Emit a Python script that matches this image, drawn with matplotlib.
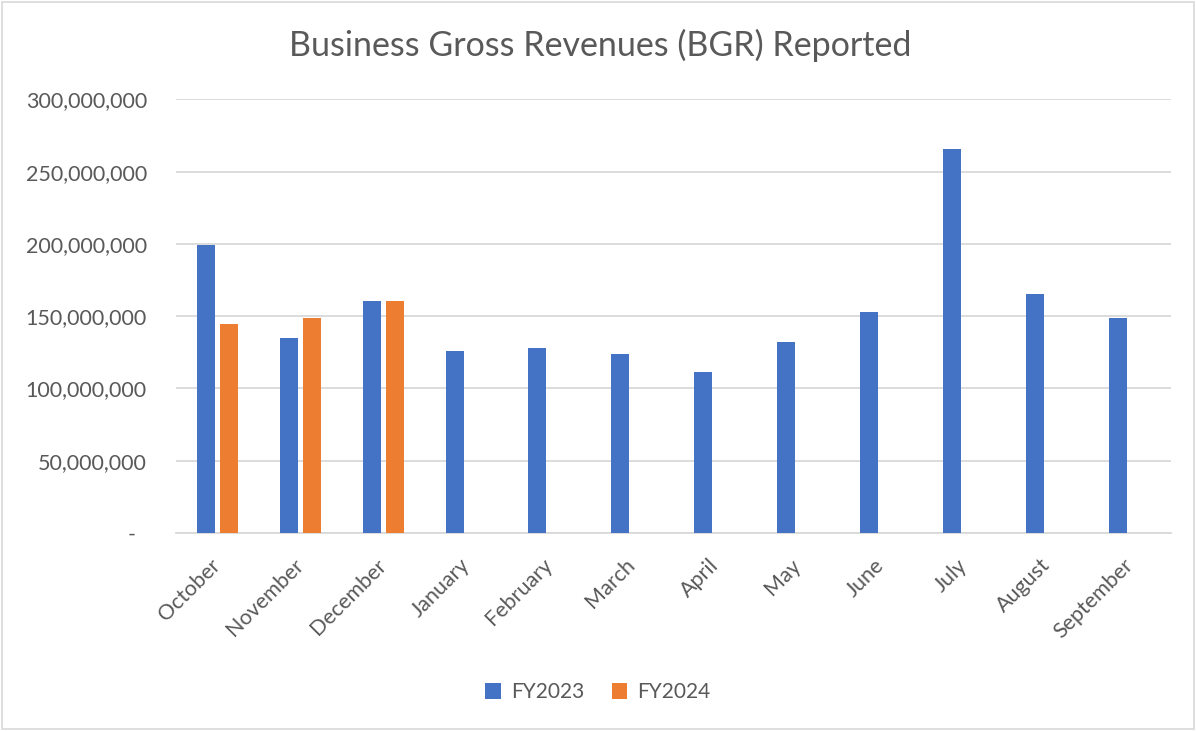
import numpy as np
import matplotlib.pyplot as plt
from matplotlib.ticker import FuncFormatter
from matplotlib.patches import Rectangle

plt.rcParams['font.family'] = ['Lato', 'DejaVu Sans']

months = ['October', 'November', 'December', 'January', 'February', 'March',
          'April', 'May', 'June', 'July', 'August', 'September']
fy2023 = [199.1e6, 135.0e6, 160.2e6, 125.8e6, 128.1e6, 124.0e6,
          111.7e6, 132.0e6, 153.2e6, 265.7e6, 165.7e6, 148.9e6]
fy2024 = [144.3e6, 149.1e6, 160.4e6]

blue = '#4472C4'
orange = '#ED7D31'
grey_text = '#595959'
grid_col = '#D9D9D9'

fig = plt.figure(figsize=(11.96, 7.31), dpi=100)
ax = fig.add_axes([0.1472, 0.2709, 0.832, 0.593])

x = np.arange(len(months))
w = 0.217
off = 0.142
ax.bar(x - off, fy2023, w, color=blue, label='FY2023', zorder=3)
ax.bar(x[:len(fy2024)] + off, fy2024, w, color=orange, label='FY2024', zorder=3)

ax.set_xlim(-0.5, len(months) - 0.5)
ax.set_ylim(0, 300e6)
ax.set_yticks(np.arange(0, 300e6 + 1, 50e6))
ax.yaxis.set_major_formatter(FuncFormatter(lambda v, p: '-  ' if v == 0 else f'{v:,.0f}'))
ax.grid(axis='y', color=grid_col, linewidth=1.3, zorder=0)
ax.tick_params(axis='both', length=0, colors=grey_text, labelsize=15.5)
ax.tick_params(axis='y', pad=21)
ax.tick_params(axis='x', pad=21)
ax.set_xticks(x)
ax.set_xticklabels(months, rotation=45, ha='right', va='center', rotation_mode='anchor')
for s in ['top', 'right', 'left']:
    ax.spines[s].set_visible(False)
ax.spines['bottom'].set_color(grid_col)
ax.spines['bottom'].set_linewidth(1.3)

fig.text(0.502, 0.938, 'Business Gross Revenues (BGR) Reported', ha='center', va='center',
         fontsize=24.5, color=grey_text)

fig.legend(loc='center', bbox_to_anchor=(0.5, 0.053), ncol=2, frameon=False,
           fontsize=15, labelcolor=grey_text, handlelength=0.75, handleheight=0.75,
           handletextpad=0.5, columnspacing=1.3)

fig.patches.append(Rectangle((0.002, 0.003), 0.996, 0.994, transform=fig.transFigure,
                             fill=False, edgecolor=grid_col, linewidth=1.2))

fig.savefig('out.png', dpi=100)
